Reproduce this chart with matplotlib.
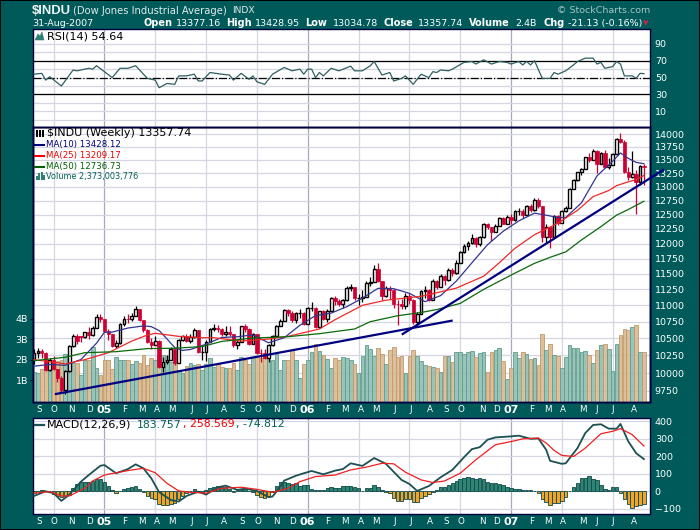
import numpy as np
import matplotlib
matplotlib.use("Agg")
import matplotlib.pyplot as plt
from matplotlib.patches import Rectangle, Polygon
from matplotlib.lines import Line2D

# weekly candles, Sep 2004 - Aug 2007
opens = [10195,10290,10313,10284,10047,10192,10055,9933,9757,10027,
         10387,10539,10535,10522,10592,10543,10650,10828,10783,10603,
         10558,10392,10427,10716,10796,10785,10841,10940,10774,10629,
         10442,10404,10461,10087,10157,10192,10345,10140,10471,10542,
         10460,10513,10623,10297,10303,10449,10640,10651,10640,10558,
         10600,10559,10397,10447,10678,10641,10419,10568,10292,10287,
         10215,10402,10530,10686,10766,10931,10878,10778,10876,10883,
         10718,10959,10960,10667,10907,10793,10920,11115,11061,11022,
         11076,11279,11280,11109,11120,11137,11347,11367,11577,11380,
         11144,11278,11247,11015,11014,10989,11150,11090,10739,10868,
         11219,11240,11088,11381,11284,11464,11392,11560,11508,11679,
         11850,11960,12002,12090,11986,12108,12342,12280,12194,12307,
         12445,12343,12463,12398,12556,12565,12487,12653,12580,12767,
         12647,12114,12276,12110,12481,12354,12560,12612,12961,13120,
         13264,13327,13556,13507,13668,13424,13639,13360,13408,13611,
         13907,13851,13265,13181,13239,13079,13377.16]
closes = [10290,10313,10284,10047,10192,10055,9933,9757,10027,10387,
          10539,10456,10522,10592,10543,10650,10828,10783,10603,10558,
          10392,10427,10716,10796,10785,10841,10940,10774,10629,10442,
          10404,10461,10087,10157,10192,10345,10140,10471,10542,10460,
          10513,10623,10297,10303,10449,10640,10651,10640,10558,10600,
          10559,10397,10447,10678,10641,10419,10568,10292,10287,10215,
          10402,10530,10686,10766,10931,10878,10778,10876,10883,10718,
          10959,10960,10667,10907,10793,10920,11115,11061,11022,11076,
          11279,11280,11109,11120,11137,11347,11367,11577,11380,11144,
          11278,11247,11015,11014,10989,11150,11090,10739,10868,11219,
          11240,11088,11381,11284,11464,11392,11560,11508,11679,11850,
          11960,12002,12090,11986,12108,12342,12280,12194,12307,12445,
          12343,12463,12398,12556,12565,12487,12653,12580,12767,12647,
          12114,12276,12110,12481,12354,12560,12612,12961,13120,13264,
          13327,13556,13507,13668,13424,13639,13360,13408,13611,13907,
          13851,13265,13181,13239,13079,13378,13357.74]
highs = [10340,10360,10350,10300,10210,10240,10060,9960,10040,10400,
         10560,10560,10540,10600,10670,10680,10860,10870,10790,10640,
         10560,10480,10730,10830,10860,10880,10990,10950,10780,10640,
         10500,10530,10480,10230,10250,10370,10350,10490,10550,10570,
         10560,10660,10630,10400,10480,10650,10710,10700,10660,10680,
         10690,10570,10480,10690,10720,10650,10580,10570,10350,10340,
         10420,10550,10700,10790,10950,10940,10910,10900,10950,10890,
         10970,11045,10970,10920,10930,10950,11130,11140,11100,11100,
         11300,11340,11290,11180,11240,11380,11440,11640,11670,11390,
         11310,11310,11260,11090,11100,11200,11190,11100,10900,11240,
         11300,11250,11410,11400,11490,11480,11590,11590,11720,11870,
         11990,12050,12170,12110,12130,12360,12360,12290,12340,12460,
         12450,12500,12510,12580,12620,12590,12670,12680,12790,12800,
         12650,12340,12290,12500,12490,12580,12650,12980,13150,13280,
         13340,13560,13630,13700,13690,13660,13690,13530,13640,13930,
         14020,13880,13370,13680,13310,13400,13428.95]
lows = [10130,10220,10220,10030,10030,10040,9880,9740,9710,10020,
        10380,10420,10440,10500,10490,10540,10650,10740,10590,10480,
        10370,10360,10420,10690,10730,10760,10830,10760,10600,10430,
        10340,10400,10070,10010,10130,10180,10110,10140,10460,10440,
        10430,10510,10280,10190,10170,10450,10610,10590,10530,10540,
        10530,10380,10340,10440,10600,10400,10410,10270,10160,10200,
        10160,10390,10520,10680,10760,10840,10750,10730,10800,10700,
        10710,10910,10650,10660,10780,10740,10910,11010,10990,10960,
        11070,11230,11090,11000,11050,11130,11300,11360,11360,11090,
        11130,11100,10960,10700,10940,10950,11020,10720,10680,10860,
        11110,11060,11090,11250,11280,11320,11390,11470,11500,11670,
        11840,11900,12000,11950,11960,12100,12250,12050,12190,12300,
        12330,12340,12330,12380,12490,12440,12480,12550,12570,12620,
        12030,12030,11930,12100,12320,12350,12540,12610,12950,13110,
        13210,13320,13470,13500,13260,13420,13350,13320,13400,13600,
        13830,13250,13130,13170,12518,13030,13034.78]

volumes = [1.39,1.33,1.56,1.69,1.6,1.85,1.94,2.0,2.3,2.0,
           1.85,1.85,1.23,1.97,1.97,2.65,1.6,1.23,1.97,1.97,
           1.57,2.15,1.97,1.97,1.97,1.77,1.92,1.85,2.21,1.72,
           2.1,1.97,2.25,2.25,2.2,1.9,1.77,1.52,1.33,1.69,
           1.85,1.73,1.77,1.48,1.77,2.1,1.64,1.78,1.65,1.6,
           1.6,1.82,1.48,2.16,1.97,1.8,2.16,2.16,2.1,2.2,
           2.2,1.97,2.26,1.48,2.0,2.0,2.47,1.97,1.13,1.8,
           2.0,2.38,2.79,2.43,2.22,2.05,1.58,2.1,2.0,2.15,
           2.07,2.0,1.8,1.33,2.18,2.73,2.55,2.18,2.6,2.3,
           1.77,2.5,2.63,2.13,2.2,1.36,2.2,2.5,2.2,1.93,
           1.73,1.7,1.65,1.6,1.4,2.2,2.2,1.9,2.4,2.4,
           2.3,2.4,2.45,2.13,2.35,2.4,1.4,2.4,2.48,2.6,
           1.95,1.07,1.6,2.4,2.1,2.4,2.3,2.05,2.1,1.75,
           3.28,2.5,2.76,2.25,2.2,1.6,2.15,2.7,2.56,2.6,
           2.4,2.45,2.25,1.85,2.5,2.7,2.75,2.55,1.46,2.75,
           3.2,3.53,3.48,3.63,3.7,2.4,2.37]

ma10_weeks = [0,4,8,12,16,18,20,24,28,30,32,34,36,38,40,44,48,52,56,60,64,68,72,76,80,84,88,92,96,100,
              104,108,112,116,120,124,128,132,134,136,140,144,148,150,152,154,156]
ma10_vals = [10097,10121,10109,10192,10430,10590,10593,10654,10686,10675,10616,10493,10363,10324,10337,
             10414,10513,10524,10551,10435,10510,10695,10842,10880,10980,11112,11267,11261,11188,11057,
             11152,11382,11679,11981,12210,12389,12526,12476,12447,12450,12707,13200,13476,13633,13531,13454,13428]
ma25_weeks = [0,8,13,19,25,29,31,37,43,46,53,60,65,73,77,84,90,99,108,115,119,123,128,134,139,143,147,149,152,154,156]
ma25_vals = [10190,10130,10190,10290,10460,10550,10575,10530,10510,10510,10460,10490,10530,10640,10780,
             11000,11080,11140,11270,11460,11680,11920,12150,12350,12575,12820,12930,13020,13090,13130,13209]
ma50_weeks = [0,8,13,21,29,36,43,48,56,65,73,82,86,93,99,103,109,115,119,123,128,132,136,140,145,149,152,156]
ma50_vals = [10175,10225,10290,10305,10350,10355,10380,10455,10505,10525,10570,10640,10750,10840,10890,
             10935,11030,11250,11380,11510,11670,11770,11860,12060,12290,12490,12590,12737]

trend1_weeks = [5.6, 106.8]
trend1_vals = [9709, 10764]
trend2_weeks = [94.3, 160.9]
trend2_vals = [10565, 13310]

rsi_weeks = [0,2,3,4,7,10,11,14,15,16,18,20,22,24,26,29,31,32,34,36,37,39,41,42,43,45,48,50,51,53,55,56,57,59,61,64,66,68,69,
             70,71,72,73,74,76,78,81,82,84,86,87,89,91,92,94,95,97,99,101,102,103,104,106,107,110,112,113,115,117,119,121,122,
             124,125,126,127,128,130,132,133,134,136,138,139,141,143,144,145,146,148,149,150,151,153,154,155,156]
rsi_vals = [54,55,47,51,40,59,58,61,60,64,57,50,61,61,64,49,47,38,43,42,52,52,54,46,46,56,54,53,47,55,48,52,45,42,54,62,58,60,54,
            60,60,50,56,52,61,58,63.5,58,58,64,69,53,56,46,49,52,42,54,50,57,56,59,58,60,68,69,66,71,66,69,68,66,
            69,65,69,65,70,49,49,56,54,58,65,69,73,73,66,68,61,63,69,66,52,52,49,55,54.64]

macd_weeks = [0,3,5,7,9,12,14,17,18,21,24,26,28,30,32,35,37,39,42,44,47,49,52,54,57,60,61,62,64,67,69,71,74,77,79,81,84,87,90,94,
              96,98,101,104,107,110,112,114,116,118,122,124,127,129,131,132,135,136,139,141,143,145,147,149,150,152,154,156]
macd_vals = [-27,0,-11,-55,-20,55,93,146,150,103,127,154,131,74,-5,-50,-59,-27,-2,-19,23,32,8,15,2,-34,-30,-2,61,89,103,116,97,118,127,160,145,190,157,65,
             42,2,30,80,122,195,241,252,295,308,314,318,300,302,237,174,157,160,247,333,379,383,358,358,385,285,218,184]
signal_weeks = [0,4,7,9,13,15,18,21,25,28,31,34,37,40,44,48,53,57,61,65,68,72,77,81,85,89,92,95,99,102,105,109,113,118,123,125,129,131,133,135,138,141,145,148,150,153,156]
signal_vals = [-11,-2,-27,-27,17,59,93,106,122,131,106,46,2,-6,-11,17,23,11,-6,17,55,84,93,122,138,160,157,109,65,50,59,103,180,266,289,300,304,276,234,205,199,247,329,343,358,324,258.6]
hist_vals = [-8,2,10,3,0,-15,-25,-30,-25,-20,20,40,55,55,55,60,68,70,51,30,
             8,-8,4,11,17,23,29,13,-6,-27,-40,-46,-74,-80,-80,-74,-68,-46,-27,-8,
             2,11,-2,-4,8,17,27,30,27,23,13,-2,8,6,11,0,-2,-21,-30,-36,
             -27,-2,30,55,51,46,42,46,30,36,36,11,8,8,8,19,23,19,17,29,
             29,30,25,17,0,17,17,34,27,8,-6,-11,-40,-54,-55,-46,-46,-63,-63,-40,
             -25,-15,-2,8,23,23,36,46,57,69,75,80,75,69,75,71,55,50,50,42,
             33,27,21,15,13,8,6,6,2,-8,-46,-63,-78,-69,-65,-54,-34,2,23,50,
             78,78,88,73,65,34,15,8,27,27,-11,-46,-73,-94,-84,-78,-74.8]

grid_weeks = [5,18,31,44,57,70,83,96,109,122,135,148]
year_weeks = [18,70,122]
month_ticks = [1.3,5.1,9.5,14.3,17.9,23.3,27.6,31.5,35.3,40.2,44.2,48.6,53.2,57.3,62.1,66.2,70,75.2,79.5,
               83.6,87.5,92.3,96.4,101.3,105.4,109.2,114.6,118.2,122,127.4,131.5,135.3,140.4,144,148.1,153.4]
month_labels = ["S","O","N","D","05","F","M","A","M","J","J","A","S","O","N","D","06","F","M",
                "A","M","J","J","A","S","O","N","D","07","F","M","A","M","J","J","A"]
price_ticks = [9750,10000,10250,10500,10750,11000,11250,11500,11750,12000,12250,12500,12750,13000,13250,13500,13750,14000]
vol_ticks = [1,2,3,4]
vol_labels = ["1B","2B","3B","4B"]
rsi_ticks = [10,30,50,70,90]
macd_ticks = [-100,0,100,200,300,400]

BG = "#005a5a"
EDGE = "#000040"
GRID = "#d6d6e2"
YEAR = "#a6a8bc"
RED = "#cc0033"

plt.rcParams["font.family"] = ["DejaVu Sans"]
fig = plt.figure(figsize=(7, 5.3), dpi=100, facecolor=BG)
W, H = 700.0, 530.0


def panel(l, t, r, b, z=1, bg="white"):
    a = fig.add_axes([l / W, 1 - b / H, (r - l) / W, (b - t) / H], zorder=z)
    a.set_facecolor(bg)
    a.set_xlim(-0.26, 157.55)
    for s in a.spines.values():
        s.set_color(EDGE)
        s.set_linewidth(1.0)
    return a


def label(x, y, s, **kw):
    kw.setdefault("color", "white")
    kw.setdefault("fontsize", 6.5)
    kw.setdefault("va", "center")
    kw.setdefault("ha", "left")
    fig.text(x / W, 1 - y / H, s, **kw)


def fig_line(x0, x1, y, c, lw=1.5):
    fig.add_artist(Line2D([x0 / W, x1 / W], [1 - y / H, 1 - y / H], color=c, lw=lw, zorder=10))


def vgrid(a):
    for w in grid_weeks:
        a.axvline(w, color=YEAR if w in year_weeks else GRID, lw=0.9, zorder=0)


def month_axis(a):
    a.set_xticks(month_ticks)
    a.set_xticklabels(month_labels)
    a.tick_params(axis="x", length=0, pad=2.5, colors="white", labelsize=6.3)
    for t in a.get_xticklabels():
        if t.get_text()[0].isdigit():
            t.set_fontweight("bold")
            t.set_fontsize(8)


weeks = np.arange(len(closes))
o = np.array(opens, float)
c = np.array(closes, float)
hi = np.array(highs, float)
lo = np.array(lows, float)
vol = np.array(volumes)
prev = np.r_[10195, c[:-1]]

# rsi
ax_rsi = panel(33, 29, 650, 127, z=2)
ax_rsi.set_ylim(-8.5, 107.5)
vgrid(ax_rsi)
for v in range(0, 100, 10):
    ax_rsi.axhline(v, color=GRID, lw=0.9, zorder=0)
ax_rsi.axhline(70, color="k", lw=0.9)
ax_rsi.axhline(30, color="k", lw=0.9)
ax_rsi.axhline(50, color="k", lw=0.9, ls="-.")
ax_rsi.plot(rsi_weeks, rsi_vals, color="#2f5f60", lw=0.9, zorder=3)
ax_rsi.set_xticks([])
ax_rsi.yaxis.tick_right()
ax_rsi.set_yticks(rsi_ticks)
ax_rsi.tick_params(axis="y", length=0, pad=3.5, colors="white", labelsize=6.8)

# grid layer, then volume, then candles
ax_grid = panel(33, 127, 650, 402, z=1)
ax_grid.set_yscale("log")
ax_grid.set_ylim(9600, 14141)
ax_grid.minorticks_off()
ax_grid.set_xticks([])
ax_grid.set_yticks([])
vgrid(ax_grid)
for p in price_ticks:
    ax_grid.axhline(p, color=GRID, lw=0.9, zorder=0)

ax_vol = panel(33, 127, 650, 402, z=2, bg="none")
ax_vol.set_ylim(-0.07, 13.41)
vol_col = ["#8fbdb2" if a >= b else "#d8b990" for a, b in zip(c, prev)]
vol_edge = ["#62a090" if a >= b else "#c39c6c" for a, b in zip(c, prev)]
ax_vol.bar(weeks, vol + 0.07, bottom=-0.07, width=0.94, color=vol_col, edgecolor=vol_edge, lw=0.7, alpha=0.9)
ax_vol.set_xticks([])
ax_vol.set_yticks(vol_ticks)
ax_vol.set_yticklabels(vol_labels)
ax_vol.tick_params(axis="y", length=2, width=0.7, color=EDGE, pad=1.5, labelcolor="white", labelsize=6.8)

ax = panel(33, 127, 650, 402, z=3, bg="none")
ax.set_yscale("log")
ax.set_ylim(9600, 14141)
ax.minorticks_off()
ax.yaxis.tick_right()
ax.set_yticks(price_ticks)
ax.set_yticklabels([str(p) for p in price_ticks])
ax.tick_params(axis="y", which="both", length=0, pad=3.5, colors="white", labelsize=6.8)
up = c >= o
ax.vlines(weeks[up], lo[up], hi[up], color="k", lw=0.9, zorder=2)
ax.vlines(weeks[~up], lo[~up], hi[~up], color=RED, lw=0.9, zorder=2)
ax.bar(weeks[up], c[up] - o[up], bottom=o[up], width=0.72, facecolor="white", edgecolor="k", lw=1.0, zorder=2.5)
ax.bar(weeks[~up], o[~up] - c[~up], bottom=c[~up], width=0.85, facecolor=RED, edgecolor=RED, lw=0.5, zorder=2.5)
ax.plot(ma10_weeks, ma10_vals, color="#34348f", lw=0.9, zorder=3)
ax.plot(ma25_weeks, ma25_vals, color="#f02828", lw=0.9, zorder=3)
ax.plot(ma50_weeks, ma50_vals, color="#0a6a0a", lw=0.9, zorder=3)
ax.plot(trend1_weeks, trend1_vals, color="#000080", lw=1.6, zorder=4, clip_on=False)
ax.plot(trend2_weeks, trend2_vals, color="#000080", lw=1.6, zorder=4, clip_on=False)
month_axis(ax)

# macd
ax_m = panel(33, 418, 650, 514, z=2)
ax_m.set_ylim(-130, 419)
vgrid(ax_m)
for v in macd_ticks:
    ax_m.axhline(v, color=GRID, lw=0.9, zorder=0)
hist = np.array(hist_vals)
ax_m.bar(weeks, hist, width=0.88, color=["#2f8474" if h >= 0 else "#f0a428" for h in hist],
         edgecolor="#0c4a48", lw=0.6, zorder=2)
ax_m.plot(macd_weeks, macd_vals, color="#1c5052", lw=1.3, zorder=3)
ax_m.plot(signal_weeks, signal_vals, color="#f02020", lw=0.9, zorder=4)
ax_m.yaxis.tick_right()
ax_m.set_yticks(macd_ticks)
ax_m.tick_params(axis="y", length=0, pad=3.5, colors="white", labelsize=6.8)
month_axis(ax_m)

# header
label(32, 10.5, "$INDU", fontsize=9.4, fontweight="bold", family="Liberation Sans", color="#eef4f4")
label(73, 10.5, "(Dow Jones Industrial Average)", fontsize=7.2, color="#dfeaea")
label(232, 10.5, "INDX", fontsize=6.6, color="#dfeaea")
label(32, 23.5, "31-Aug-2007", fontsize=6.8)
for x, s in [(144, "Open"), (226, "High"), (305, "Low"), (383, "Close"), (469, "Volume"), (543, "Chg")]:
    label(x, 23.5, s, fontsize=7, fontweight="bold")
for x, s in [(176, "13377.16"), (255, "13428.95"), (333, "13034.78"), (418, "13357.74"), (515, "2.4B"),
             (568, "-21.13 (-0.16%)")]:
    label(x, 23.5, s, fontsize=6.8)
label(646, 23.5, "▼", fontsize=5, color="#cc2244", ha="center")
label(650, 10.5, "© StockCharts.com", fontsize=6.8, color="#a9c4c4", ha="right")

# panel legends
fig.add_artist(Polygon([[35 / W, 1 - 40 / H], [38 / W, 1 - 34 / H], [40 / W, 1 - 36 / H], [42 / W, 1 - 32 / H],
                        [44 / W, 1 - 40 / H]], closed=True, fc="#2f7f75", ec="#2f7f75", lw=0.4,
                       transform=fig.transFigure, zorder=10))
label(47, 36.5, "RSI(14) 54.64", color="k", fontsize=8, zorder=10)
for x in (36, 39, 42):
    fig.add_artist(Rectangle((x / W, 1 - 137 / H), 2 / W, 7 / H, fc="k", ec="none",
                             transform=fig.transFigure, zorder=10))
label(47.5, 133.5, "$INDU (Weekly) 13357.74", color="k", fontsize=8, zorder=10)
for y, s, col in [(144.5, "MA(10) 13428.12", "#000080"), (155.5, "MA(25) 13209.17", "#f00000"),
                  (166.5, "MA(50) 12736.73", "#006000")]:
    fig_line(35, 44, y, col)
    label(45.5, y, s, color=col, fontsize=6.2, zorder=10)
for x, h in [(35.5, 4), (38, 7), (40.5, 8), (43, 5)]:
    fig.add_artist(Rectangle((x / W, 1 - 180 / H), 2 / W, h / H, fc="#2f7f75", ec="none",
                             transform=fig.transFigure, zorder=10))
label(45.5, 176.5, "Volume 2,373,003,776", color="#006058", fontsize=5.9, zorder=10)

fig_line(35, 44, 424.5, "#1c5052", lw=1.6)
label(47, 424.5, "MACD(12,26,9)", color="k", fontsize=8, zorder=10)
label(137, 424.5, "183.757", color="#006058", fontsize=7.8, zorder=10)
label(183, 424.5, ", 258.569", color="#f00000", fontsize=7.8, zorder=10)
label(236, 424.5, ", -74.812", color="#006058", fontsize=7.8, zorder=10)

fig.add_artist(Rectangle((0, 0), 1, 1, fc="none", ec="k", lw=1.4, transform=fig.transFigure, zorder=20))
fig.savefig("out.png", dpi=100, facecolor=BG)
